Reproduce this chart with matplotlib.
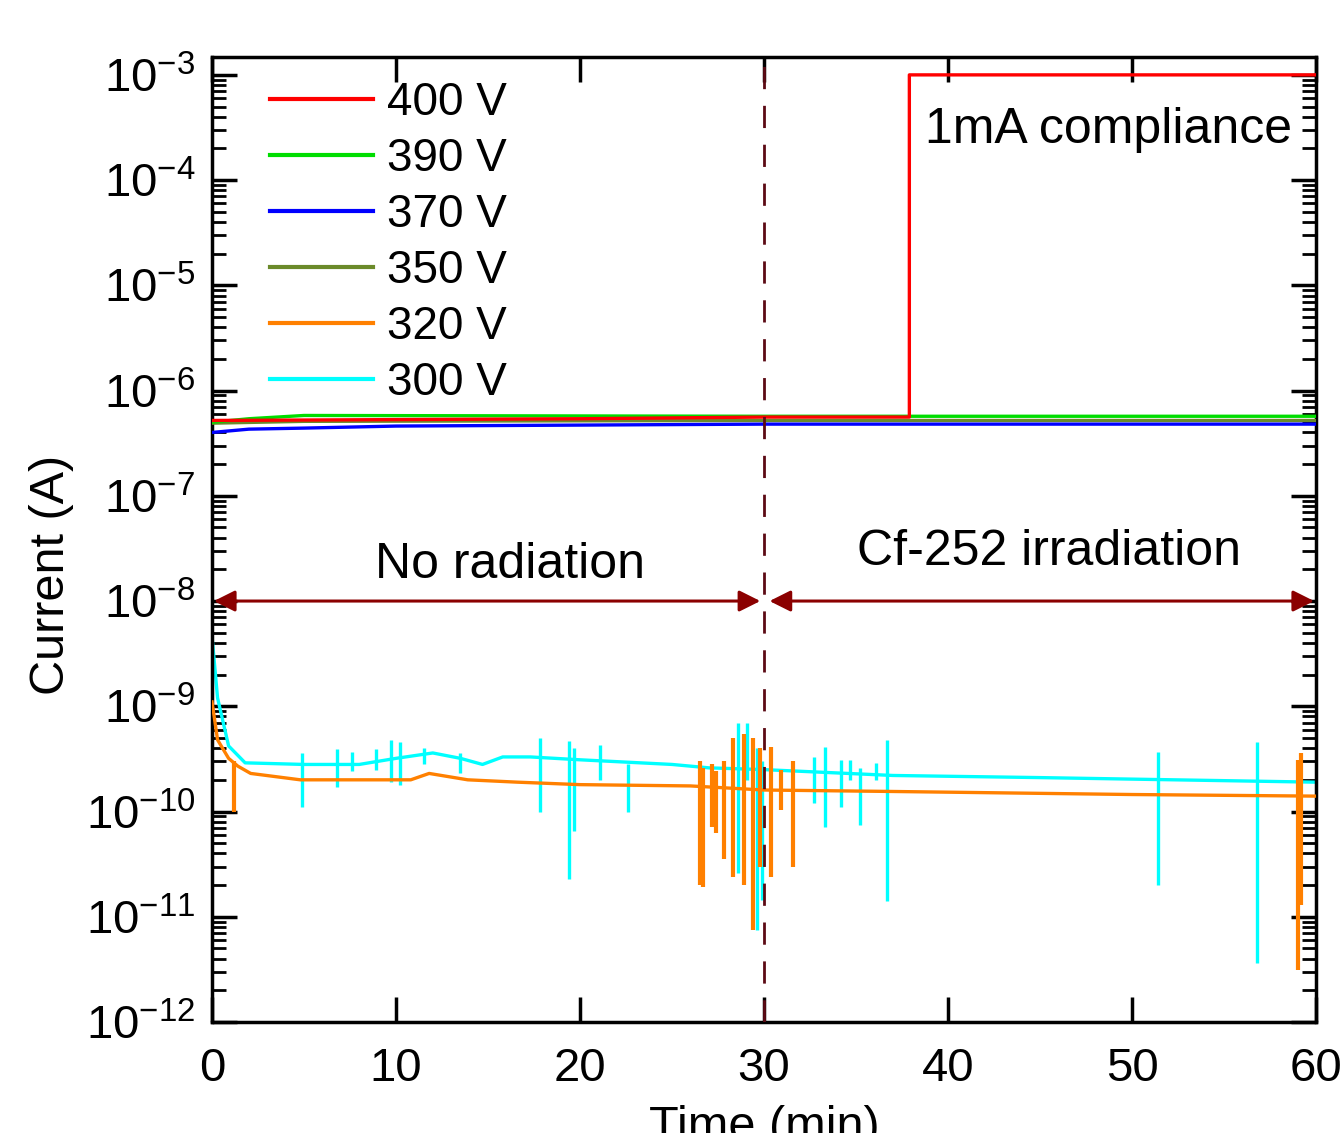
import matplotlib
matplotlib.use("Agg")
import matplotlib.pyplot as plt
from matplotlib.ticker import LogLocator, FixedLocator, NullFormatter

plt.rcParams['font.family'] = ['Liberation Sans', 'DejaVu Sans']
plt.rcParams['mathtext.fontset'] = 'custom'
plt.rcParams['mathtext.rm'] = 'Liberation Sans'
plt.rcParams['mathtext.it'] = 'Liberation Sans'

# ---------------- data ----------------
labels = ['400 V', '390 V', '370 V', '350 V', '320 V', '300 V']
colors = ['#ff0000', '#00dd00', '#0000ff', '#6b8a2a', '#ff8000', '#00ffff']

# high-voltage curves (baseline knots)
t_400 = [0, 10, 20, 30, 37.9, 37.9, 60]
i_400 = [5.2e-7, 5.3e-7, 5.4e-7, 5.6e-7, 5.6e-7, 1e-3, 1e-3]
t_390 = [0, 2, 5, 30, 60]
i_390 = [5.0e-7, 5.4e-7, 5.8e-7, 5.7e-7, 5.7e-7]
t_370 = [0, 2, 5, 10, 30, 60]
i_370 = [4.0e-7, 4.3e-7, 4.4e-7, 4.6e-7, 4.8e-7, 4.8e-7]
t_350 = [0, 5, 30, 60]
i_350 = [4.9e-7, 5.1e-7, 5.2e-7, 5.2e-7]

# low-voltage curves (baseline knots)
t_320 = [0, 0.3, 0.9, 1.4, 2.1, 4.8, 10.8, 11.8, 13.9, 16.6, 20, 26, 30, 37, 50, 60]
i_320 = [1.1e-9, 4.8e-10, 3.2e-10, 2.7e-10, 2.3e-10, 2.0e-10, 2.0e-10, 2.3e-10,
         2.0e-10, 1.9e-10, 1.8e-10, 1.75e-10, 1.6e-10, 1.55e-10, 1.45e-10, 1.4e-10]
t_300 = [0, 0.3, 0.9, 1.8, 5, 8, 10, 12, 13.5, 14.7, 15.8, 17.3, 20, 25, 27,
         30, 37, 45, 60]
i_300 = [4.6e-9, 1.2e-9, 4.2e-10, 2.9e-10, 2.8e-10, 2.8e-10, 3.2e-10, 3.6e-10,
         3.2e-10, 2.8e-10, 3.3e-10, 3.3e-10, 3.1e-10, 2.8e-10, 2.6e-10,
         2.5e-10, 2.2e-10, 2.1e-10, 1.9e-10]

# spikes: time, low, high
sp320_t = [1.2, 26.5, 26.7, 27.2, 27.4, 27.8, 28.3, 28.9, 29.4, 29.8, 30.4, 30.9, 31.6, 59.0, 59.2]
sp320_lo = [1.0e-10, 2.0e-11, 1.9e-11, 7.1e-11, 6.3e-11, 3.5e-11, 2.4e-11, 2.0e-11,
            7.5e-12, 3.0e-11, 2.4e-11, 1.04e-10, 3.0e-11, 3.1e-12, 1.3e-11]
sp320_hi = [3.0e-10, 3.0e-10, 2.6e-10, 2.8e-10, 2.4e-10, 3.0e-10, 5.0e-10, 5.5e-10,
            5.0e-10, 4.0e-10, 4.1e-10, 2.5e-10, 3.0e-10, 3.1e-10, 3.6e-10]

sp300_t = [4.9, 6.8, 7.6, 8.9, 9.7, 10.2, 11.5, 13.5, 17.8, 19.4, 19.7, 21.1, 22.6,
           28.6, 29.1, 29.6, 29.9, 32.7, 33.3, 34.2, 34.7, 35.2, 36.1, 36.7, 51.4, 56.8]
sp300_lo = [1.1e-10, 1.7e-10, 2.4e-10, 2.5e-10, 1.9e-10, 1.8e-10, 2.8e-10, 2.3e-10,
            1.0e-10, 2.3e-11, 6.5e-11, 2.0e-10, 1.0e-10,
            2.6e-11, 2.0e-10, 7.5e-12, 1.45e-11, 1.2e-10, 7.1e-11, 1.1e-10, 2.0e-10,
            7.5e-11, 2.0e-10, 1.4e-11, 2.0e-11, 3.6e-12]
sp300_hi = [3.6e-10, 3.9e-10, 3.7e-10, 3.9e-10, 4.8e-10, 4.6e-10, 4.0e-10, 3.6e-10,
            5.0e-10, 4.7e-10, 4.0e-10, 4.3e-10, 2.8e-10,
            6.9e-10, 6.9e-10, 4.0e-10, 3.0e-10, 3.3e-10, 4.1e-10, 3.1e-10, 3.1e-10,
            2.6e-10, 2.9e-10, 4.8e-10, 3.7e-10, 4.6e-10]

ytick_exp = [-12, -11, -10, -9, -8, -7, -6, -5, -4, -3]
xticks = [0, 10, 20, 30, 40, 50, 60]

# ---------------- figure ----------------
fig = plt.figure(figsize=(13.42, 11.33), dpi=100)
ax = fig.add_axes([0.158, 0.098, 0.8226, 0.8517])

lw = 2.4
ax.plot(t_300, i_300, color=colors[5], lw=lw, label=labels[5], zorder=2)
ax.vlines(sp300_t, sp300_lo, sp300_hi, color=colors[5], lw=2.4, zorder=2)
ax.plot(t_320, i_320, color=colors[4], lw=lw, label=labels[4], zorder=3)
ax.vlines(sp320_t, sp320_lo, sp320_hi, color=colors[4], lw=3.0, zorder=3)
ax.plot(t_350, i_350, color=colors[3], lw=lw, label=labels[3], zorder=4)
ax.plot(t_370, i_370, color=colors[2], lw=lw, label=labels[2], zorder=4)
ax.plot(t_390, i_390, color=colors[1], lw=lw, label=labels[1], zorder=4.5)
ax.plot(t_400, i_400, color=colors[0], lw=lw, label=labels[0], zorder=5)

# dashed separator at 30 min
ax.axvline(30, color='#5c0a14', lw=2, dashes=(8, 6), zorder=6)

# region arrows
arrow_kw = dict(arrowstyle='<|-|>', color='#8b0000', lw=2.2, mutation_scale=32,
                shrinkA=0, shrinkB=0)
ax.annotate('', xy=(0.1, 1e-8), xytext=(29.8, 1e-8), arrowprops=arrow_kw)
ax.annotate('', xy=(30.3, 1e-8), xytext=(59.9, 1e-8), arrowprops=arrow_kw)

ax.text(16.2, 2.2e-8, 'No radiation', fontsize=36, ha='center', va='center')
ax.text(45.5, 2.9e-8, 'Cf-252 irradiation', fontsize=36, ha='center', va='center')
ax.text(38.75, 3.0e-4, '1mA compliance', fontsize=36, ha='left', va='center')

ax.set_yscale('log')
ax.set_xlim(0, 60)
ax.set_ylim(1e-12, 10 ** -2.83)

ax.yaxis.set_major_locator(FixedLocator([10.0 ** e for e in ytick_exp]))
ax.set_yticklabels(['$10^{%d}$' % e for e in ytick_exp])
ax.yaxis.set_minor_locator(LogLocator(base=10, subs=range(2, 10), numticks=20))
ax.yaxis.set_minor_formatter(NullFormatter())
ax.set_xticks(xticks)
ax.set_xticklabels([str(x) for x in xticks])

ax.tick_params(which='major', direction='in', length=18, width=2.5,
               labelsize=34, top=True, right=True)
ax.tick_params(axis='y', which='major', pad=12)
ax.tick_params(axis='x', which='major', pad=18)
ax.tick_params(which='minor', direction='in', length=10, width=2,
               top=False, right=True)
for s in ax.spines.values():
    s.set_linewidth(2.5)

ax.set_xlabel('Time (min)', fontsize=35, labelpad=10)
ax.set_ylabel('Current (A)', fontsize=35)
ax.yaxis.set_label_coords(-0.125, 0.463)

handles, labs = ax.get_legend_handles_labels()
order = [labs.index(l) for l in labels]
leg = ax.legend([handles[i] for i in order], [labs[i] for i in order],
                loc='upper left', bbox_to_anchor=(0.0525, 0.975),
                frameon=False, fontsize=33, handlelength=2.25,
                handletextpad=0.3, labelspacing=0.26, borderpad=0,
                borderaxespad=0)
for h in leg.get_lines():
    h.set_linewidth(3)

fig.savefig('out.png', dpi=100)
